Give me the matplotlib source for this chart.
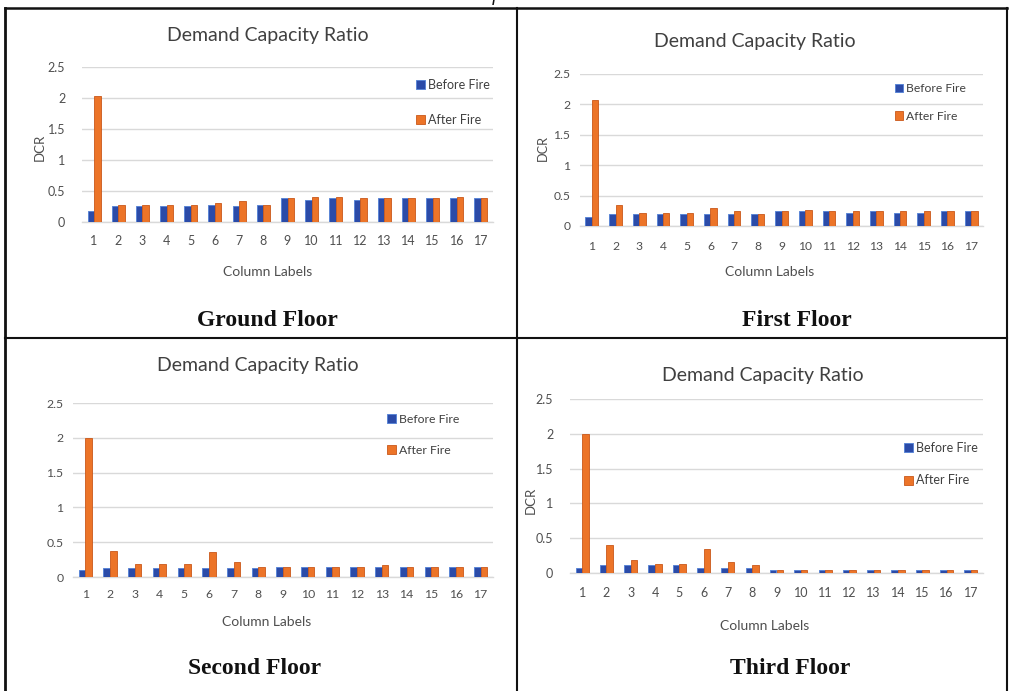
import matplotlib
matplotlib.use("Agg")
import matplotlib.pyplot as plt
import numpy as np
from matplotlib.lines import Line2D
from matplotlib.patches import Patch

W, H = 1010, 691

columns = [str(i) for i in range(1, 18)]
y_ticks = [0, 0.5, 1, 1.5, 2, 2.5]
y_tick_labels = ["0", "0.5", "1", "1.5", "2", "2.5"]

ground_before = [0.18, 0.26, 0.26, 0.26, 0.26, 0.28, 0.26, 0.28, 0.38, 0.36, 0.38, 0.36, 0.38, 0.38, 0.38, 0.38, 0.38]
ground_after = [2.04, 0.28, 0.28, 0.28, 0.28, 0.30, 0.34, 0.28, 0.38, 0.40, 0.40, 0.38, 0.38, 0.38, 0.38, 0.40, 0.38]

first_before = [0.15, 0.19, 0.19, 0.19, 0.19, 0.19, 0.19, 0.19, 0.25, 0.25, 0.25, 0.22, 0.25, 0.22, 0.22, 0.25, 0.25]
first_after = [2.07, 0.34, 0.22, 0.22, 0.22, 0.30, 0.25, 0.19, 0.25, 0.27, 0.25, 0.25, 0.25, 0.25, 0.25, 0.25, 0.25]

second_before = [0.10, 0.13, 0.13, 0.13, 0.13, 0.13, 0.13, 0.13, 0.15, 0.15, 0.15, 0.15, 0.15, 0.15, 0.15, 0.15, 0.15]
second_after = [2.00, 0.38, 0.18, 0.18, 0.18, 0.36, 0.21, 0.15, 0.15, 0.15, 0.15, 0.15, 0.17, 0.15, 0.15, 0.15, 0.15]

third_before = [0.07, 0.11, 0.11, 0.11, 0.11, 0.07, 0.07, 0.07, 0.05, 0.05, 0.05, 0.05, 0.05, 0.05, 0.05, 0.05, 0.05]
third_after = [2.00, 0.40, 0.19, 0.13, 0.13, 0.34, 0.16, 0.11, 0.05, 0.05, 0.05, 0.05, 0.05, 0.05, 0.05, 0.05, 0.05]

floor_names = ["Ground Floor", "First Floor", "Second Floor", "Third Floor"]
chart_title = "Demand Capacity Ratio"
x_label = "Column Labels"
y_label = "DCR"
series_names = ["Before Fire", "After Fire"]

BLUE, BLUE_EDGE = "#2B4BA8", "#5B86D6"
ORANGE, ORANGE_EDGE = "#EC7428", "#C9581A"
GRID = "#D9D9D9"
TXT = "#4F4F4F"
SANS = ["Lato", "DejaVu Sans"]

plt.rcParams["font.family"] = SANS

fig = plt.figure(figsize=(W / 100, H / 100), dpi=100)


def fx(x):
    return x / W


def fy(y):
    return 1 - y / H


panels = [
    dict(before=ground_before, after=ground_after, box=(82, 67, 493, 222),
         title=(268, 35, 14), xl=(268, 272), yl=(40, 147), tick_fs=9, xpad=9, ypad=12,
         leg=(416, 86, 121), name=(267, 320)),
    dict(before=first_before, after=first_after, box=(580, 74, 983, 226),
         title=(755, 41, 14), xl=(770, 272), yl=(543, 148), tick_fs=8.7, xpad=11, ypad=7,
         leg=(895, 90, 119), name=(797, 320)),
    dict(before=second_before, after=second_after, box=(73, 403, 493, 577),
         title=(258, 366, 14), xl=(267, 622), yl=None, tick_fs=8.8, xpad=9, ypad=7,
         leg=(387, 421, 453), name=(255, 668)),
    dict(before=third_before, after=third_after, box=(570, 399, 983, 573),
         title=(763, 376, 14), xl=(765, 626), yl=(531, 500), tick_fs=9, xpad=10, ypad=12,
         leg=(904, 449, 482), name=(790, 668)),
]

x = np.arange(len(columns))
bw = 0.27

for p, name in zip(panels, floor_names):
    x0, y0, x1, y1 = p["box"]
    ax = fig.add_axes([fx(x0), fy(y1), (x1 - x0) / W, (y1 - y0) / H])
    ax.bar(x - bw / 2, p["before"], bw, color=BLUE, edgecolor=BLUE_EDGE, linewidth=0.7, zorder=3)
    ax.bar(x + bw / 2, p["after"], bw, color=ORANGE, edgecolor=ORANGE_EDGE, linewidth=0.6, zorder=3)
    ax.set_xlim(-0.5, len(columns) - 0.5)
    ax.set_ylim(0, 2.5)
    ax.set_yticks(y_ticks)
    ax.set_yticklabels(y_tick_labels)
    ax.set_xticks(x)
    ax.set_xticklabels(columns)
    ax.grid(axis="y", color=GRID, linewidth=1.0, zorder=0)
    ax.set_axisbelow(True)
    for s in ["top", "right", "left"]:
        ax.spines[s].set_visible(False)
    ax.spines["bottom"].set_color(GRID)
    ax.spines["bottom"].set_linewidth(1.0)
    ax.tick_params(axis="both", length=0, labelsize=p["tick_fs"], colors=TXT)
    ax.tick_params(axis="y", pad=p["ypad"])
    ax.tick_params(axis="x", pad=p["xpad"])

    tx, ty, tfs = p["title"]
    fig.text(fx(tx), fy(ty), chart_title, ha="center", va="center", fontsize=tfs, color="#404040")
    fig.text(fx(p["xl"][0]), fy(p["xl"][1]), x_label, ha="center", va="center",
             fontsize=10, color=TXT)
    if p["yl"] is not None:
        fig.text(fx(p["yl"][0]), fy(p["yl"][1]), y_label, ha="center", va="center",
                 rotation=90, fontsize=p["tick_fs"] + 0.5, color=TXT)

    lx, ly1, ly2 = p["leg"]
    gap_fs = (ly2 - ly1) / (p["tick_fs"] * 100 / 72) - 1
    handles = [Patch(facecolor=BLUE, edgecolor=BLUE_EDGE, linewidth=0.7),
               Patch(facecolor=ORANGE, edgecolor=ORANGE_EDGE, linewidth=0.6)]
    fig.legend(handles, series_names, loc="upper left",
               bbox_to_anchor=(fx(lx), fy(ly1 - 7)), frameon=False,
               fontsize=p["tick_fs"], labelcolor="#404040",
               handlelength=0.7, handleheight=0.7, handletextpad=0.25,
               labelspacing=gap_fs, borderpad=0, borderaxespad=0)

    fig.text(fx(p["name"][0]), fy(p["name"][1]), name, ha="center", va="center",
             fontsize=17, fontweight="bold", family="Liberation Serif", color="#111111")

# table frame around the four panels
frame = [
    ((5, 5), (8, 691), 2.0),
    ((1007, 1007), (8, 691), 1.5),
    ((5, 1007), (8, 8), 1.8),
    ((517, 517), (8, 691), 1.5),
    ((5, 1007), (338, 338), 1.5),
]
for (xs, ys, lw) in frame:
    fig.add_artist(Line2D([fx(xs[0]), fx(xs[1])], [fy(ys[0]), fy(ys[1])],
                          transform=fig.transFigure, color="#111111", linewidth=lw))

# tail of the caption line running above the table
fig.text(fx(494), fy(5), "f", ha="center", va="bottom", fontsize=14,
         style="italic", family="Liberation Serif", color="#111111")

fig.savefig("out.png", dpi=100)
